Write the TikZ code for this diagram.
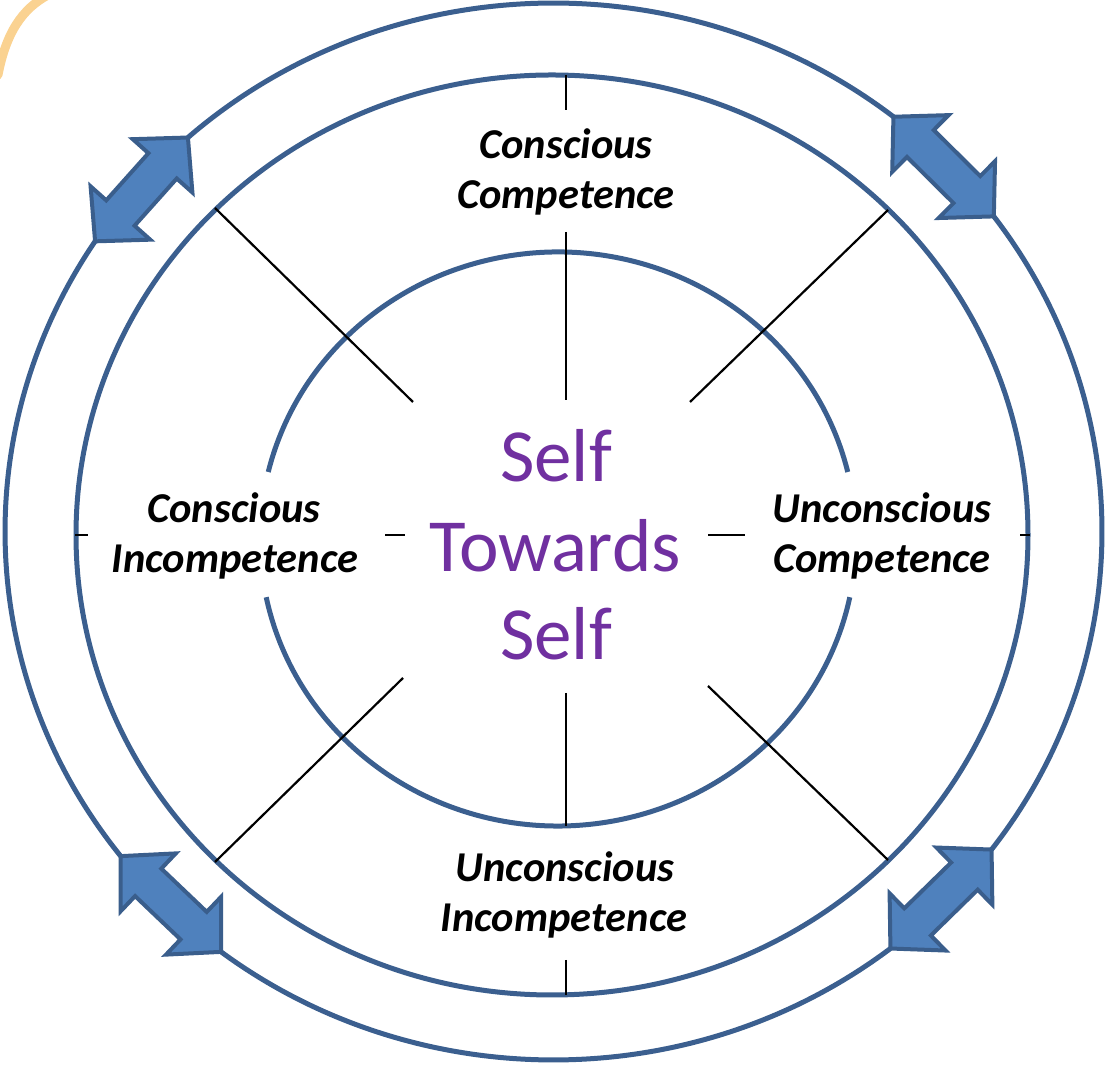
\documentclass[tikz,border=0pt]{standalone}
\usepackage{fontspec}
\setmainfont{Carlito}
\usetikzlibrary{calc}
\definecolor{ringblue}{HTML}{3B5F8F}
\definecolor{arrowfill}{HTML}{4F81BD}
\definecolor{arrowedge}{HTML}{3A5E8C}
\definecolor{selfpurple}{HTML}{7030A0}
\definecolor{sunorange}{HTML}{F5A623}
\newcommand\dblarrow[2]{%
  \coordinate (ha) at ($(#1)!38pt!(#2)$);
  \coordinate (hb) at ($(#2)!38pt!(#1)$);
  \draw[arrowstyle] (#1) -- ($(ha)!40pt!90:(#2)$) -- ($(ha)!19pt!90:(#2)$)
    -- ($(hb)!19pt!-90:(#1)$) -- ($(hb)!40pt!-90:(#1)$) -- (#2)
    -- ($(hb)!40pt!90:(#1)$) -- ($(hb)!19pt!90:(#1)$)
    -- ($(ha)!19pt!-90:(#2)$) -- ($(ha)!40pt!-90:(#2)$) -- cycle;
}
\begin{document}
\begin{tikzpicture}[x=1pt,y=1pt,
  ring/.style={draw=ringblue,line width=5pt},
  spoke/.style={draw=black,line width=2.2pt},
  arrowstyle/.style={draw=arrowedge,fill=arrowfill,line width=4pt,line join=miter},
  lbl/.style={font=\fontsize{42.5}{50}\selectfont\bfseries\itshape,anchor=base,inner sep=0pt},
  ctr/.style={font=\fontsize{75}{89}\selectfont,text=selfpurple,anchor=base,inner sep=0pt}]
\useasboundingbox (0,0) rectangle (1106,1065);
\begin{scope}
\clip (0,0) rectangle (1106,1065);
\draw[sunorange,line width=9pt,opacity=0.5,line cap=round] (48,1070) .. controls (22,1056) and (6,1032) .. (-2,990);
\end{scope}
\coordinate (oc) at (553.5,533.5);
\coordinate (mc) at (552,530);
\coordinate (ic) at (558,526);
% outer ring in four arcs
\draw[ring] (oc) ++(51.7:548.5 and 528.5) arc[start angle=51.7,end angle=131.8,x radius=548.5,y radius=528.5];
\draw[ring] (oc) ++(146.7:548.5 and 528.5) arc[start angle=146.7,end angle=217.9,x radius=548.5,y radius=528.5];
\draw[ring] (oc) ++(232.7:548.5 and 528.5) arc[start angle=232.7,end angle=307.9,x radius=548.5,y radius=528.5];
\draw[ring] (oc) ++(323:548.5 and 528.5) arc[start angle=323,end angle=396.6,x radius=548.5,y radius=528.5];
% middle ring
\draw[ring] (mc) ellipse[x radius=476,y radius=460];
% inner ring with gaps
\draw[ring] (ic) ++(13.5:298 and 287) arc[start angle=13.5,end angle=166.5,x radius=298,y radius=287];
\draw[ring] (ic) ++(191.7:298 and 287) arc[start angle=191.7,end angle=348.3,x radius=298,y radius=287];
% spokes
\draw[spoke] (566,990) -- (566,955);
\draw[spoke] (566,833) -- (566,665);
\draw[spoke] (566,372) -- (566,239);
\draw[spoke] (566,105) -- (566,70);
\draw[spoke] (75,530) -- (88,530);
\draw[spoke] (385,530) -- (405,530);
\draw[spoke] (708,530) -- (745,530);
\draw[spoke] (1020,530) -- (1030,530);
\draw[spoke] (215,857) -- (413,663);
\draw[spoke] (888,855) -- (690,663);
\draw[spoke] (403,387) -- (215,203);
\draw[spoke] (708,379) -- (888,205);
% arrows
\path (oc) ++(146.7:548.5 and 528.5) coordinate (ulA);
\path (oc) ++(131.8:548.5 and 528.5) coordinate (ulB);
\path (oc) ++(51.7:548.5 and 528.5) coordinate (urA);
\path (oc) ++(36.6:548.5 and 528.5) coordinate (urB);
\path (oc) ++(217.9:548.5 and 528.5) coordinate (llA);
\path (oc) ++(232.7:548.5 and 528.5) coordinate (llB);
\path (oc) ++(307.9:548.5 and 528.5) coordinate (lrA);
\path (oc) ++(323:548.5 and 528.5) coordinate (lrB);
\dblarrow{ulA}{ulB}
\dblarrow{urA}{urB}
\dblarrow{llA}{llB}
\dblarrow{lrA}{lrB}
% labels
\node[lbl] (t1) at (566,906) {Conscious};
\node[lbl] (t2) at (566,856) {Competence};
\node[lbl] (l1) at (234,542) {Conscious};
\node[lbl] (l2) at (235,492) {Incompetence};
\node[lbl] (r1) at (882,542) {Unconscious};
\node[lbl] (r2) at (882,492) {Competence};
\node[lbl] (b1) at (565,183) {Unconscious};
\node[lbl] (b2) at (564,133) {Incompetence};
\node[ctr] (c1) at (556,583) {Self};
\node[ctr] (c2) at (555,493) {Towards};
\node[ctr] (c3) at (556,405) {Self};
\end{tikzpicture}
\end{document}
